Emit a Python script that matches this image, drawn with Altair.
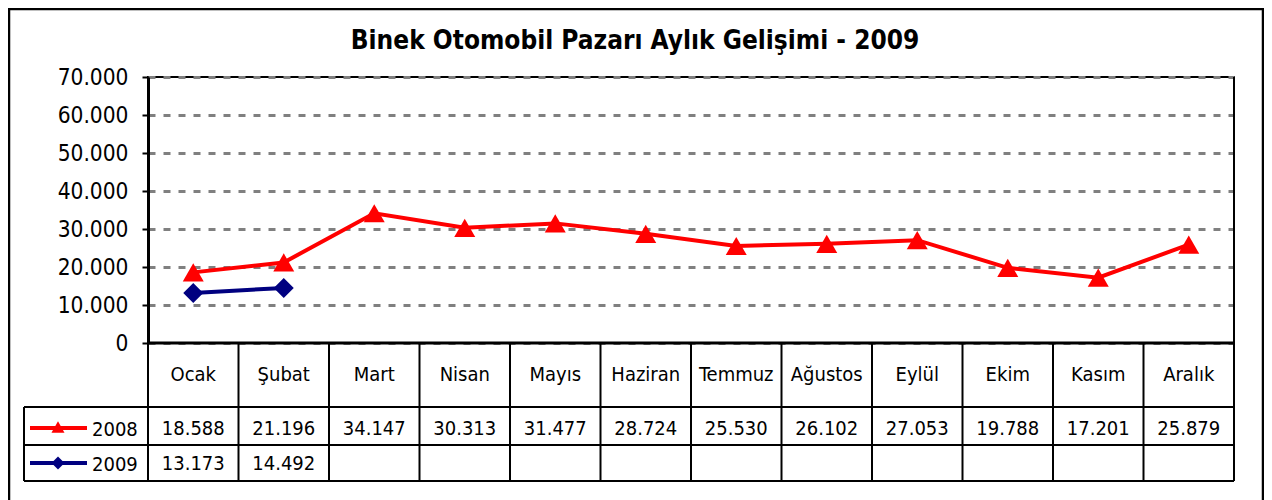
import altair as alt
import pandas as pd

months = ["Ocak", "Şubat", "Mart", "Nisan", "Mayıs", "Haziran", "Temmuz",
          "Ağustos", "Eylül", "Ekim", "Kasım", "Aralık"]
sales_2008 = [18588, 21196, 34147, 30313, 31477, 28724, 25530, 26102, 27053,
              19788, 17201, 25879]
sales_2009 = [13173, 14492]
years = ["2008", "2009"]
y_ticks = [0, 10000, 20000, 30000, 40000, 50000, 60000, 70000]
title_text = "Binek Otomobil Pazarı Aylık Gelişimi - 2009"

rows = []
for m, v in zip(months, sales_2008):
    rows.append({"month": m, "year": years[0], "value": v})
for m, v in zip(months, sales_2009):
    rows.append({"month": m, "year": years[1], "value": v})
df = pd.DataFrame(rows)
mdf = pd.DataFrame({"month": months})
one = pd.DataFrame({"k": [0]})

W, H = 1086, 266
FONT = "DejaVu Sans Condensed, Liberation Sans, sans-serif"
RED = "#FF0000"
NAVY = "#000080"
TR_FMT = "replace(format(datum.value, ',d'), ',', '.')"

xscale = alt.Scale(type="band", domain=months, paddingInner=0, paddingOuter=0)
xenc = alt.X("month:N", scale=xscale, axis=None)
yenc = alt.Y(
    "value:Q",
    scale=alt.Scale(domain=[0, 70000], nice=False, zero=True),
    axis=alt.Axis(
        values=y_ticks, title=None, labelExpr=TR_FMT,
        labelFont=FONT, labelFontSize=22.5, labelColor="black", labelPadding=14,
        tickSize=6, tickColor="black", tickWidth=2,
        domainColor="black", domainWidth=3,
        grid=True, gridColor="#808080", gridDash=[7, 8], gridWidth=3,
    ),
)
color = alt.Color("year:N", scale=alt.Scale(domain=years, range=[RED, NAVY]), legend=None)
shape = alt.Shape("year:N", scale=alt.Scale(domain=years, range=["triangle-up", "diamond"]), legend=None)
size = alt.Size("year:N", scale=alt.Scale(domain=years, range=[440, 400]), legend=None)

base = alt.Chart(df)
lines = base.mark_line(strokeWidth=4).encode(x=xenc, y=yenc, color=color)
points = base.mark_point(filled=True, opacity=1).encode(x=xenc, y=yenc, color=color, shape=shape, size=size)

# Data table
header = alt.Chart(mdf).mark_text(font=FONT, fontSize=20, baseline="middle", color="black").encode(
    x=xenc, y=alt.value(298), text="month:N")
vals08 = base.transform_filter(alt.datum.year == years[0]).transform_calculate(
    label="replace(format(datum.value, ',d'), ',', '.')").mark_text(
    font=FONT, fontSize=20, baseline="middle", color="black").encode(
    x=xenc, y=alt.value(352), text="label:N")
vals09 = base.transform_filter(alt.datum.year == years[1]).transform_calculate(
    label="replace(format(datum.value, ',d'), ',', '.')").mark_text(
    font=FONT, fontSize=20, baseline="middle", color="black").encode(
    x=xenc, y=alt.value(387), text="label:N")

vlines = alt.Chart(mdf).mark_rule(color="black", strokeWidth=2).encode(
    x=alt.X("month:N", scale=xscale, axis=None, bandPosition=0),
    y=alt.value(H), y2=alt.value(404))
dec = alt.Chart(one)
vline_end = dec.mark_rule(color="black", strokeWidth=2).encode(x=alt.value(W), y=alt.value(0), y2=alt.value(404))
vline_leg = dec.mark_rule(color="black", strokeWidth=2).encode(x=alt.value(-124), y=alt.value(330), y2=alt.value(404))
hline0 = dec.mark_rule(color="black", strokeWidth=3).encode(x=alt.value(0), x2=alt.value(W), y=alt.value(H))
hline1 = dec.mark_rule(color="black", strokeWidth=2).encode(x=alt.value(-124), x2=alt.value(W), y=alt.value(330))
hline2 = dec.mark_rule(color="black", strokeWidth=2).encode(x=alt.value(-124), x2=alt.value(W), y=alt.value(368))
hline3 = dec.mark_rule(color="black", strokeWidth=2).encode(x=alt.value(-124), x2=alt.value(W), y=alt.value(404))

# Legend keys inside table
leg_l08 = dec.mark_rule(color=RED, strokeWidth=4).encode(x=alt.value(-118), x2=alt.value(-61), y=alt.value(351))
leg_p08 = dec.mark_point(shape="triangle-up", filled=True, opacity=1, size=170, color=RED).encode(
    x=alt.value(-90), y=alt.value(350))
leg_t08 = dec.mark_text(font=FONT, fontSize=20, align="left", baseline="middle", color="black").encode(
    x=alt.value(-56), y=alt.value(353), text=alt.value(years[0]))
leg_l09 = dec.mark_rule(color=NAVY, strokeWidth=4).encode(x=alt.value(-118), x2=alt.value(-61), y=alt.value(386))
leg_p09 = dec.mark_point(shape="diamond", filled=True, opacity=1, size=170, color=NAVY).encode(
    x=alt.value(-90), y=alt.value(386))
leg_t09 = dec.mark_text(font=FONT, fontSize=20, align="left", baseline="middle", color="black").encode(
    x=alt.value(-56), y=alt.value(388), text=alt.value(years[1]))

title = dec.mark_text(text=title_text, font=FONT, fontSize=26, fontWeight="bold",
                      align="center", baseline="alphabetic", color="black").encode(
    x=alt.value(487), y=alt.value(-28))
border = dec.mark_rect(fillOpacity=0, stroke="black", strokeWidth=2.5).encode(
    x=alt.value(-139), x2=alt.value(1115), y=alt.value(-68), y2=alt.value(440))

chart = alt.layer(
    lines, points, header, vals08, vals09, vlines, vline_end, vline_leg,
    hline0, hline1, hline2, hline3,
    leg_l08, leg_p08, leg_t08, leg_l09, leg_p09, leg_t09, title, border,
).properties(
    width=W, height=H,
    autosize=alt.AutoSizeParams(type="none"),
    padding={"left": 140, "top": 69, "right": 30, "bottom": 157},
    background="white",
).configure_view(stroke="black", strokeWidth=2)

chart.save("out.html", embed_options={"renderer": "svg", "actions": False})
